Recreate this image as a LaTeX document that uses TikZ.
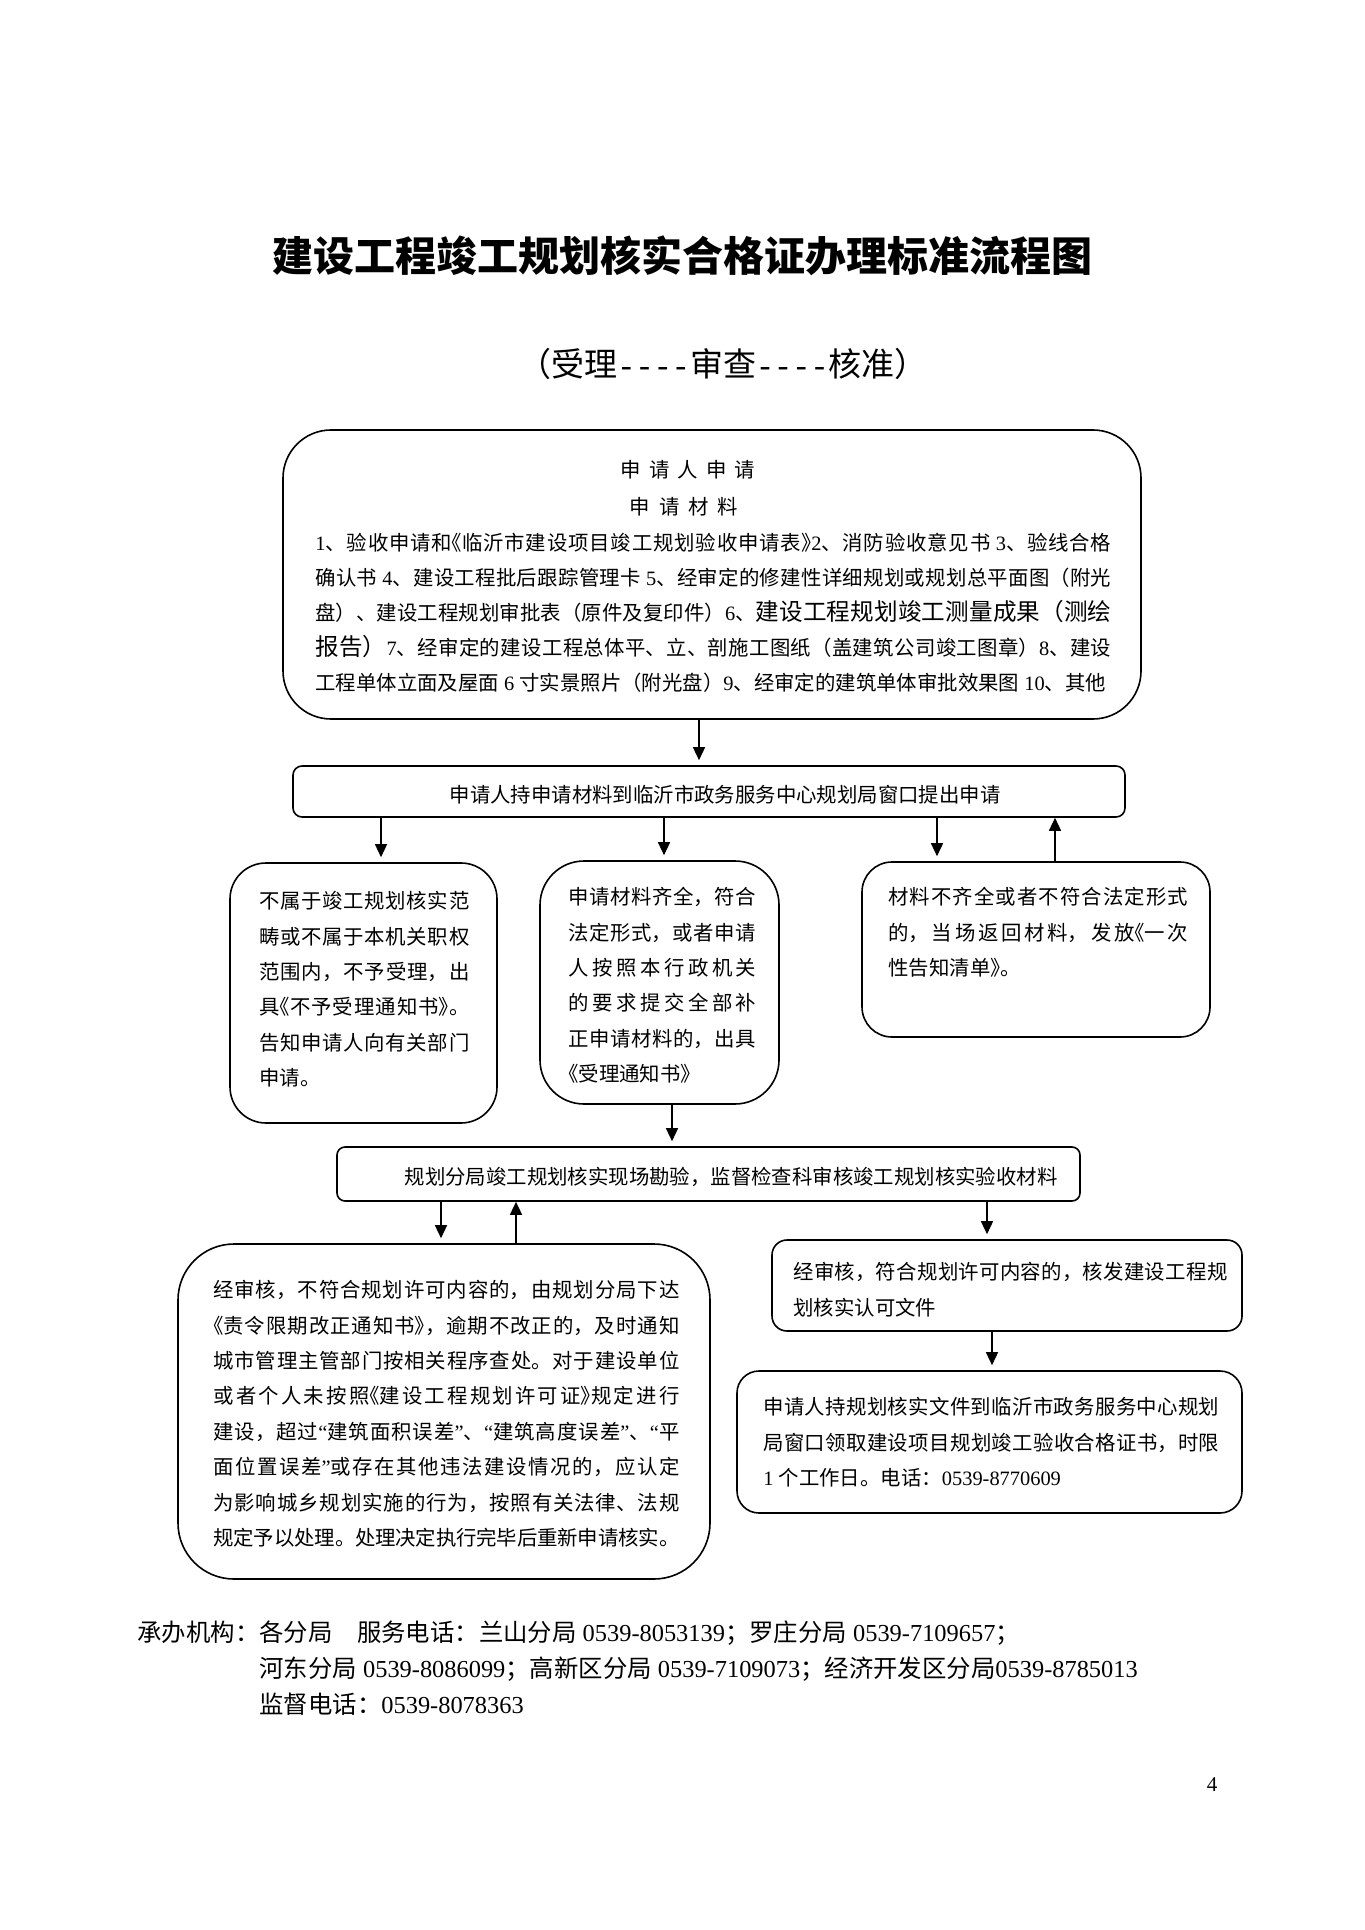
\documentclass[tikz,border=0pt]{standalone}
\usepackage{fontspec}
\usepackage{tikz}
\usetikzlibrary{arrows.meta}
\setmainfont{Liberation Serif}
\newfontfamily\cjk{Noto Sans CJK SC}
% Chinese characters in Noto, Latin and digits in Liberation Serif
\chardef\hanzi=7
\newcount\hzcode
\hzcode="2E80
\loop\ifnum\hzcode<"A000 \XeTeXcharclass\hzcode=\hanzi \advance\hzcode by 1 \repeat
\hzcode="FF00
\loop\ifnum\hzcode<"FFF0 \XeTeXcharclass\hzcode=\hanzi \advance\hzcode by 1 \repeat
\XeTeXinterchartoks 0 \hanzi = {\cjk}
\XeTeXinterchartoks 4095 \hanzi = {\cjk}
\XeTeXinterchartoks \hanzi 0 = {\rmfamily}
\XeTeXinterchartoks \hanzi 4095 = {\rmfamily}
\XeTeXinterchartokenstate=1
\XeTeXlinebreaklocale "zh"
\XeTeXlinebreakskip=0pt plus 3pt minus 0.4pt\relax
\tolerance=9999
\newcommand{\zw}{\fontsize{10.2pt}{17.7pt}\selectfont}
\newcommand{\dazi}{\fontsize{11.8pt}{17.5pt}\selectfont}
\newcommand{\shuL}{\makebox[.5em][r]{《}}
\newcommand{\shuR}{\makebox[.5em][l]{》}}
\newcommand{\shu}[1]{\shuL{}#1\shuR{}}
\newcommand{\zhx}{\makebox[.55em]{-}}

\tikzset{
  kuang/.style={draw, line width=0.8pt, inner sep=0pt},
  wenzi/.style={inner sep=0pt, anchor=north west, text width=#1, align=justify, font=\zw},
  danhang/.style={inner sep=0pt, font=\zw},
  jiantou/.style={-{Triangle[length=6.5pt,width=6pt]}, line width=0.7pt, shorten >=2.5pt},
  fanhui/.style={-{Triangle[length=6.5pt,width=6pt]}, line width=0.7pt},
}

\begin{document}
\begin{tikzpicture}[x=0.5pt, y=-0.5pt]
    \useasboundingbox (0,0) rectangle (1364,1930);

    % Title
    \node[inner sep=0pt, font=\fontsize{20.5pt}{24pt}\selectfont\bfseries] (biaoti) at (682,256) {建设工程竣工规划核实合格证办理标准流程图};
    \node[inner sep=0pt, font=\fontsize{16.5pt}{20pt}\selectfont] (fubiaoti) at (723,364) {（受理\zhx{}\zhx{}\zhx{}\zhx{}审查\zhx{}\zhx{}\zhx{}\zhx{}核准）};

    % Boxes
    \node[kuang, rounded corners=24pt, minimum width=429pt, minimum height=144.5pt] (sq) at (712,574.5) {};
    \node[kuang, rounded corners=4.5pt, minimum width=416pt, minimum height=25.5pt] (chuang) at (709,791.5) {};
    \node[kuang, rounded corners=18pt, minimum width=133.5pt, minimum height=130pt] (buyu) at (363.5,993) {};
    \node[kuang, rounded corners=22pt, minimum width=119.5pt, minimum height=121.5pt] (shouli) at (659.5,982.5) {};
    \node[kuang, rounded corners=15pt, minimum width=174pt, minimum height=87.5pt] (buqi) at (1036,949.5) {};
    \node[kuang, rounded corners=4pt, minimum width=371.5pt, minimum height=27pt] (kancha) at (708.5,1174) {};
    \node[kuang, rounded corners=28pt, minimum width=266pt, minimum height=167.5pt] (gaizheng) at (444,1411.5) {};
    \node[kuang, rounded corners=7.5pt, minimum width=235pt, minimum height=45.5pt] (hefa) at (1007,1285.5) {};
    \node[kuang, rounded corners=11pt, minimum width=252.5pt, minimum height=71pt] (lingqu) at (989.5,1442) {};

    % Texts in the boxes
    \node[danhang] (sq-h1) at (688,470) {申\hspace{.4em}请\hspace{.4em}人\hspace{.4em}申\hspace{.4em}请};
    \node[danhang] (sq-h2) at (684,507) {申\hspace{.44em}请\hspace{.44em}材\hspace{.44em}料};
    \node[wenzi=398pt, font=\fontsize{10.2pt}{17.5pt}\selectfont] (sq-t) at (315,533) {\parfillskip=0pt
    1、验收申请和\shu{临沂市建设项目竣工规划验收申请表}2、消防验收意见书 3、验线合格\linebreak
    确认书 4、建设工程批后跟踪管理卡 5、经审定的修建性详细规划或规划总平面图（附光\linebreak
    盘）、建设工程规划审批表（原件及复印件）6、{\dazi 建设工程规划竣工测量成果（测绘}\linebreak
    {\dazi 报告）}7、经审定的建设工程总体平、立、剖施工图纸（盖建筑公司竣工图章）8、建设\linebreak
    工程单体立面及屋面 6 寸实景照片（附光盘）9、经审定的建筑单体审批效果图 10、其他};

    \node[danhang] (chuang-t) at (725,795) {申请人持申请材料到临沂市政务服务中心规划局窗口提出申请};

    \node[wenzi=105pt] (buyu-t) at (259,891) {不属于竣工规划核实范\linebreak
    畴或不属于本机关职权\linebreak
    范围内，不予受理，出\linebreak
    具\shu{不予受理通知书}。\linebreak
    告知申请人向有关部门\linebreak
    申请。};

    \node[wenzi=94pt] (shouli-t) at (568,887) {申请材料齐全，符合\linebreak
    法定形式，或者申请\linebreak
    人按照本行政机关\linebreak
    的要求提交全部补\linebreak
    正申请材料的，出具\linebreak
    \shu{受理通知书}};

    \node[wenzi=150pt] (buqi-t) at (888,887) {材料不齐全或者不符合法定形式\linebreak
    的，当场返回材料，发放\shuL{}一次\linebreak
    性告知清单\shuR{}。};

    \node[danhang] (kancha-t) at (731,1177) {规划分局竣工规划核实现场勘验，监督检查科审核竣工规划核实验收材料};

    \node[wenzi=233pt] (gaizheng-t) at (213,1280) {经审核，不符合规划许可内容的，由规划分局下达\linebreak
    \shu{责令限期改正通知书}，逾期不改正的，及时通知\linebreak
    城市管理主管部门按相关程序查处。对于建设单位\linebreak
    或者个人未按照\shu{建设工程规划许可证}规定进行\linebreak
    建设，超过“建筑面积误差”、“建筑高度误差”、“平\linebreak
    面位置误差”或存在其他违法建设情况的，应认定\linebreak
    为影响城乡规划实施的行为，按照有关法律、法规\linebreak
    规定予以处理。处理决定执行完毕后重新申请核实。};

    \node[wenzi=217pt] (hefa-t) at (793,1262) {经审核，符合规划许可内容的，核发建设工程规\linebreak
    划核实认可文件};

    \node[wenzi=228pt] (lingqu-t) at (763,1397) {申请人持规划核实文件到临沂市政务服务中心规划\linebreak
    局窗口领取建设项目规划竣工验收合格证书，时限\linebreak
    1 个工作日。电话：0539-8770609};

    % Arrows
    \draw[jiantou] ([xshift=-6.5pt]sq.south) -- ([xshift=-6.5pt]sq.south |- chuang.north);
    \draw[jiantou] ([xshift=-164pt]chuang.south) -- ([xshift=-164pt]chuang.south |- buyu.north);
    \draw[jiantou] ([xshift=-22.5pt]chuang.south) -- ([xshift=-22.5pt]chuang.south |- shouli.north);
    \draw[jiantou] ([xshift=114pt]chuang.south) -- ([xshift=114pt]chuang.south |- buqi.north);
    \draw[fanhui] ([xshift=9.5pt]buqi.north) -- ([xshift=9.5pt]buqi.north |- chuang.south);
    \draw[jiantou] ([xshift=6.25pt]shouli.south) -- ([xshift=6.25pt]shouli.south |- kancha.north);
    \draw[jiantou] ([xshift=-133.75pt]kancha.south) -- ([xshift=-133.75pt]kancha.south |- gaizheng.north);
    \draw[fanhui] ([xshift=36pt]gaizheng.north) -- ([xshift=36pt]gaizheng.north |- kancha.south);
    \draw[jiantou] ([xshift=139.25pt]kancha.south) -- ([xshift=139.25pt]kancha.south |- hefa.north);
    \draw[jiantou] ([xshift=-7.5pt]hefa.south) -- ([xshift=-7.5pt]hefa.south |- lingqu.north);

    % Footer
    \node[inner sep=0pt, anchor=north west, align=left, font=\fontsize{12.2pt}{18pt}\selectfont] (chengban) at (137,1620) {承办机构：各分局\hspace{1em}服务电话：兰山分局 0539-8053139；罗庄分局 0539-7109657；\\
    \hspace*{5em}河东分局 0539-8086099；高新区分局 0539-7109073；经济开发区分局0539-8785013\\
    \hspace*{5em}监督电话：0539-8078363};
    \node[inner sep=0pt, font=\fontsize{10.5pt}{12pt}\selectfont] (yema) at (1212,1785) {4};
\end{tikzpicture}
\end{document}
